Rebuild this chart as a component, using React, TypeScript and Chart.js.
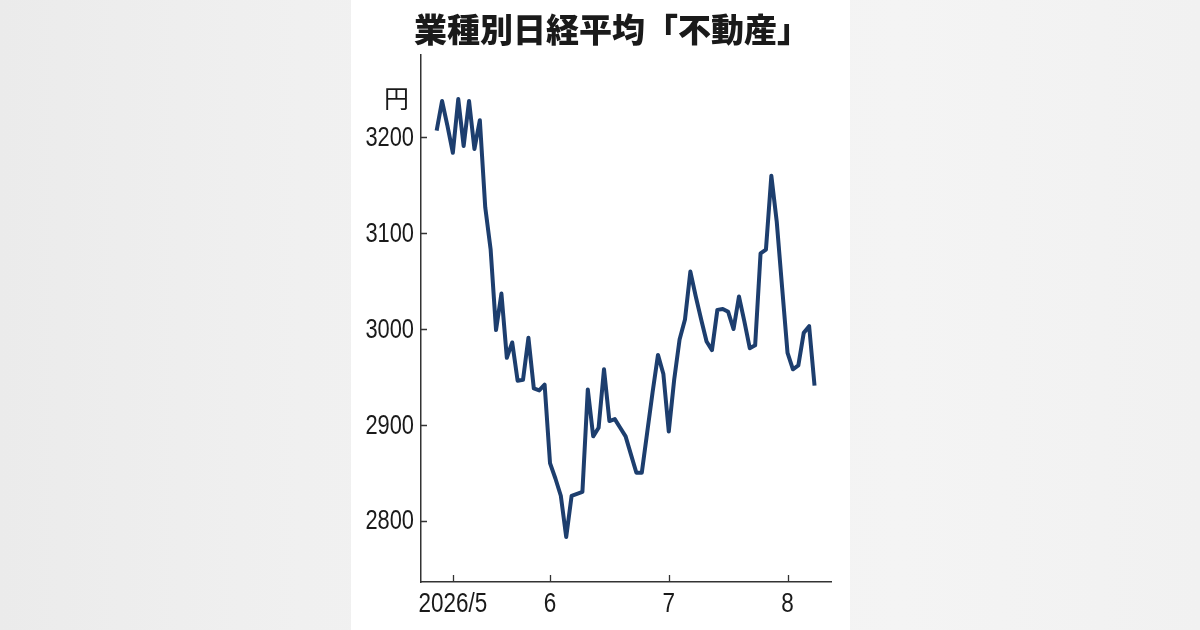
import React, { useEffect, useRef } from "react";
import { Chart, registerables } from "chart.js";

Chart.register(...registerables);

const title = "業種別日経平均「不動産」";
const unit = "円";

const dates = [
  "4/27", "4/28", "4/30",
  "5/1", "5/7", "5/8", "5/11", "5/12", "5/13", "5/14", "5/15", "5/18", "5/19", "5/20", "5/21", "5/22", "5/25", "5/26", "5/27", "5/28", "5/29",
  "6/1", "6/2", "6/3", "6/4", "6/5", "6/8", "6/9", "6/10", "6/11", "6/12", "6/15", "6/16", "6/17", "6/18", "6/19", "6/22", "6/23", "6/24", "6/25", "6/26", "6/29", "6/30",
  "7/1", "7/2", "7/3", "7/6", "7/7", "7/8", "7/9", "7/10", "7/13", "7/14", "7/15", "7/16", "7/17", "7/21", "7/22", "7/23", "7/24", "7/27", "7/28", "7/29", "7/30", "7/31",
  "8/3", "8/4", "8/5", "8/6", "8/7", "8/10",
];

const values = [
  3207, 3238, 3212, 3184, 3240, 3191, 3238, 3188, 3218, 3127,
  3083, 2999, 3037, 2970, 2986, 2946, 2947, 2991, 2938, 2936,
  2942, 2860, 2844, 2826, 2783, 2826, 2828, 2830, 2937, 2888,
  2897, 2958, 2904, 2906, 2897, 2888, 2869, 2850, 2850, 2892,
  2934, 2973, 2953, 2893, 2947, 2989, 3010, 3060, 3034, 3010,
  2987, 2978, 3020, 3021, 3018, 3000, 3034, 3008, 2980, 2983,
  3079, 3083, 3160, 3112, 3043, 2975, 2958, 2962, 2996, 3003,
  2941,
];

const monthTickDates = ["5/1", "6/1", "7/1", "8/3"];
const monthTickLabels = ["2026/5", "6", "7", "8"];
const yTicks = [2800, 2900, 3000, 3100, 3200];

const LINE_COLOR = "#1d3e6e";
const AXIS_COLOR = "#333333";
const TEXT_COLOR = "#1a1a1a";
const TICK_FONT = '28px "Liberation Sans", Arial, sans-serif';
const CONDENSE = 0.78;

function xLabel(v: number) {
  const k = monthTickDates.findIndex((d) => dates.indexOf(d) === v);
  return k >= 0 ? monthTickLabels[k] : "";
}

const axisDecor = {
  id: "axisDecor",
  afterDraw(chart: any) {
    const { ctx, chartArea, scales } = chart;
    ctx.save();
    ctx.strokeStyle = AXIS_COLOR;
    ctx.lineWidth = 1.3;
    ctx.beginPath();
    scales.y.ticks.forEach((t: any) => {
      const y = Math.round(scales.y.getPixelForValue(t.value)) + 0.5;
      ctx.moveTo(chartArea.left, y);
      ctx.lineTo(chartArea.left + 6, y);
    });
    scales.x.ticks.forEach((t: any) => {
      const x = Math.round(scales.x.getPixelForValue(t.value)) + 0.5;
      ctx.moveTo(x, chartArea.bottom);
      ctx.lineTo(x, chartArea.bottom - 7);
    });
    ctx.stroke();
    ctx.fillStyle = TEXT_COLOR;
    ctx.font = TICK_FONT;
    ctx.textBaseline = "middle";
    ctx.textAlign = "right";
    scales.y.ticks.forEach((t: any) => {
      const y = scales.y.getPixelForValue(t.value);
      ctx.save();
      ctx.translate(chartArea.left - 7, y + 1);
      ctx.scale(CONDENSE, 1);
      ctx.fillText(String(t.value), 0, 0);
      ctx.restore();
    });
    ctx.textAlign = "center";
    scales.x.ticks.forEach((t: any) => {
      const x = scales.x.getPixelForValue(t.value);
      ctx.save();
      ctx.translate(x, chartArea.bottom + 22);
      ctx.scale(CONDENSE * 1.03, 1);
      ctx.fillText(xLabel(t.value), 0, 0);
      ctx.restore();
    });
    ctx.restore();
  },
};

export default function App() {
  const ref = useRef<HTMLCanvasElement | null>(null);

  useEffect(() => {
    if (!ref.current) return;
    const chart = new Chart(ref.current, {
      type: "line",
      data: {
        datasets: [
          {
            data: values.map((v, i) => ({ x: i, y: v })),
            borderColor: LINE_COLOR,
            borderWidth: 4,
            pointRadius: 0,
            tension: 0,
            borderJoinStyle: "round",
            borderCapStyle: "butt",
          },
        ],
      },
      options: {
        animation: false,
        responsive: false,
        devicePixelRatio: 1,
        layout: { padding: { top: 55, right: 18, left: 0, bottom: 0 } },
        plugins: { legend: { display: false }, tooltip: { enabled: false }, title: { display: false } },
        scales: {
          x: {
            type: "linear",
            min: -2.9,
            max: 73.05,
            afterFit: (s: any) => {
              s.height = 48;
            },
            afterBuildTicks: (s: any) => {
              s.ticks = monthTickDates.map((d) => ({ value: dates.indexOf(d) }));
            },
            ticks: { display: false, autoSkip: false, maxRotation: 0, callback: (v: any) => xLabel(v) },
            grid: { display: false, drawTicks: false },
            border: { display: true, color: AXIS_COLOR, width: 1.5 },
          },
          y: {
            min: 2736,
            max: 3286,
            afterFit: (s: any) => {
              s.width = 70;
            },
            afterBuildTicks: (s: any) => {
              s.ticks = yTicks.map((v) => ({ value: v }));
            },
            ticks: { display: false, callback: (v: any) => String(v) },
            grid: { display: false, drawTicks: false },
            border: { display: true, color: AXIS_COLOR, width: 1.5 },
          },
        },
      },
      plugins: [axisDecor],
    });
    return () => chart.destroy();
  }, []);

  return (
    <div
      style={{
        position: "fixed",
        left: 0,
        top: 0,
        width: 1200,
        height: 630,
        background: "linear-gradient(90deg, #ebebeb 0%, #f0f0f0 25%, #f4f4f4 75%, #f1f1f1 100%)",
        overflow: "hidden",
      }}
    >
      <div style={{ position: "absolute", left: 351, top: 0, width: 499, height: 630, background: "#ffffff" }}>
        <canvas ref={ref} width={498} height={630} style={{ position: "absolute", left: 0, top: 0 }} />
        <div
          style={{
            position: "absolute",
            left: 63,
            top: 10,
            fontFamily: '"Noto Sans CJK JP", sans-serif',
            fontWeight: 900,
            fontSize: 33,
            lineHeight: "36px",
            color: "#1a1a1a",
            whiteSpace: "nowrap",
          }}
        >
          {title}
        </div>
        <div
          style={{
            position: "absolute",
            left: 33,
            top: 82,
            fontFamily: '"Noto Sans CJK JP", sans-serif',
            fontSize: 25,
            lineHeight: "30px",
            color: "#1a1a1a",
          }}
        >
          {unit}
        </div>
      </div>
    </div>
  );
}
